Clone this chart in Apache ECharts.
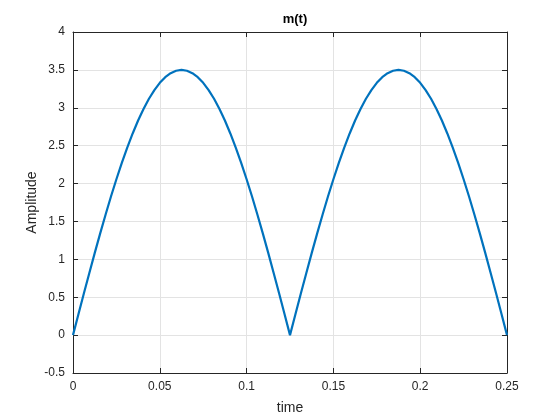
<!DOCTYPE html>
<html>
<head>
<meta charset="utf-8">
<script src="https://cdn.jsdelivr.net/npm/echarts@6/dist/echarts.min.js"></script>
<style>
html, body { margin: 0; padding: 0; background: #fff; }
#chart { width: 560px; height: 420px; }
</style>
</head>
<body>
<div id="chart"></div>
<script>
// time samples (s)
var times = [
    0, 0.003125, 0.00625, 0.009375, 0.0125, 0.015625, 0.01875, 0.021875, 0.025, 0.028125,
    0.03125, 0.034375, 0.0375, 0.040625, 0.04375, 0.046875, 0.05, 0.053125, 0.05625, 0.059375,
    0.0625, 0.065625, 0.06875, 0.071875, 0.075, 0.078125, 0.08125, 0.084375, 0.0875, 0.090625,
    0.09375, 0.096875, 0.1, 0.103125, 0.10625, 0.109375, 0.1125, 0.115625, 0.11875, 0.121875,
    0.125, 0.128125, 0.13125, 0.134375, 0.1375, 0.140625, 0.14375, 0.146875, 0.15, 0.153125,
    0.15625, 0.159375, 0.1625, 0.165625, 0.16875, 0.171875, 0.175, 0.178125, 0.18125, 0.184375,
    0.1875, 0.190625, 0.19375, 0.196875, 0.2, 0.203125, 0.20625, 0.209375, 0.2125, 0.215625,
    0.21875, 0.221875, 0.225, 0.228125, 0.23125, 0.234375, 0.2375, 0.240625, 0.24375, 0.246875,
    0.25
];
// m(t)
var amplitude = [
    0, 0.275, 0.548, 0.817, 1.082, 1.339, 1.589, 1.829, 2.057, 2.273,
    2.475, 2.661, 2.832, 2.984, 3.119, 3.234, 3.329, 3.403, 3.457, 3.489,
    3.5, 3.489, 3.457, 3.403, 3.329, 3.234, 3.119, 2.984, 2.832, 2.661,
    2.475, 2.273, 2.057, 1.829, 1.589, 1.339, 1.082, 0.817, 0.548, 0.275,
    0, 0.275, 0.548, 0.817, 1.082, 1.339, 1.589, 1.829, 2.057, 2.273,
    2.475, 2.661, 2.832, 2.984, 3.119, 3.234, 3.329, 3.403, 3.457, 3.489,
    3.5, 3.489, 3.457, 3.403, 3.329, 3.234, 3.119, 2.984, 2.832, 2.661,
    2.475, 2.273, 2.057, 1.829, 1.589, 1.339, 1.082, 0.817, 0.548, 0.275,
    0
];
var xTicks = [0, 0.05, 0.1, 0.15, 0.2, 0.25];
var yTicks = [-0.5, 0, 0.5, 1, 1.5, 2, 2.5, 3, 3.5, 4];

var font = 'Liberation Sans, Arial, Helvetica, sans-serif';
var axisColor = '#262626';

function axisBase(show) {
    return {
        type: 'value',
        axisLine: { show: true, onZero: false, lineStyle: { color: axisColor, width: 1 } },
        axisTick: { show: true, inside: true, length: 5, lineStyle: { color: axisColor } },
        axisLabel: { show: show, color: axisColor, fontFamily: font, fontSize: 12 },
        splitLine: { show: show, lineStyle: { color: '#e3e3e3', width: 1 } }
    };
}

var chart = echarts.init(document.getElementById('chart'));

var xMain = axisBase(true);
xMain.min = xTicks[0];
xMain.max = xTicks[xTicks.length - 1];
xMain.interval = 0.05;
xMain.position = 'bottom';
xMain.name = 'time';
xMain.nameLocation = 'middle';
xMain.nameGap = 28;
xMain.nameMoveOverlap = false;
xMain.nameTextStyle = { color: axisColor, fontFamily: font, fontSize: 14 };
xMain.axisLabel.margin = 8;
xMain.axisLabel.formatter = function (v) { return String(+v.toFixed(2)); };

var xTop = axisBase(false);
xTop.min = xMain.min;
xTop.max = xMain.max;
xTop.interval = 0.05;
xTop.position = 'top';

var yMain = axisBase(true);
yMain.min = yTicks[0];
yMain.max = yTicks[yTicks.length - 1];
yMain.interval = 0.5;
yMain.position = 'left';
yMain.name = 'Amplitude';
yMain.nameLocation = 'middle';
yMain.nameGap = 34;
yMain.nameMoveOverlap = false;
yMain.nameTextStyle = { color: axisColor, fontFamily: font, fontSize: 14 };
yMain.axisLabel.margin = 8;

var yRight = axisBase(false);
yRight.min = yMain.min;
yRight.max = yMain.max;
yRight.interval = 0.5;
yRight.position = 'right';

var option = {
    backgroundColor: '#fff',
    animation: false,
    title: {
        text: 'm(t)',
        left: 290,
        top: 8,
        textAlign: 'center',
        textStyle: { color: '#000', fontFamily: font, fontSize: 13, fontWeight: 'bold' }
    },
    grid: { left: 73, right: 53, top: 32, bottom: 47 },
    xAxis: [xMain, xTop],
    yAxis: [yMain, yRight],
    series: [{
        type: 'line',
        xAxisIndex: 0,
        yAxisIndex: 0,
        showSymbol: false,
        smooth: false,
        lineStyle: { color: '#0072BD', width: 2.2 },
        data: times.map(function (t, i) { return [t, amplitude[i]]; })
    }]
};
chart.setOption(option);
</script>
</body>
</html>
